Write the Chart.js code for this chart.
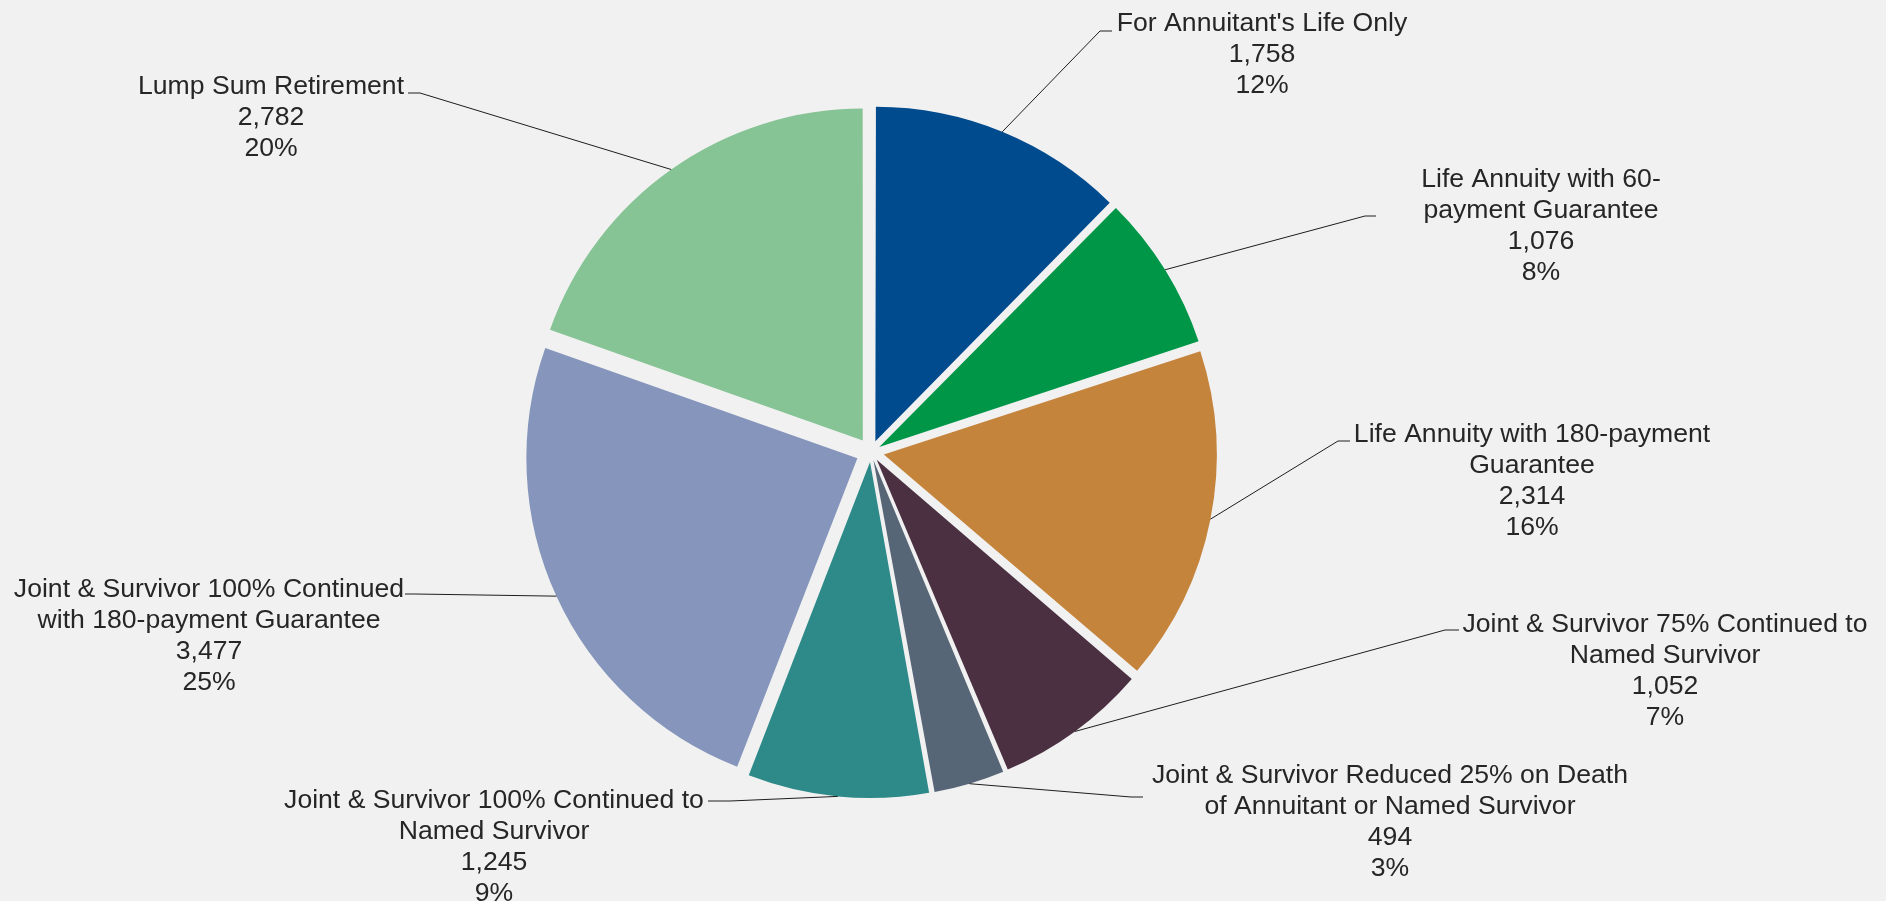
<!DOCTYPE html>
<html>
<head>
<meta charset="utf-8">
<script src="https://cdn.jsdelivr.net/npm/chart.js@4.4.1/dist/chart.umd.min.js"></script>
<style>
  html, body { margin: 0; padding: 0; background: #f1f1f1; }
  #wrap { width: 1886px; height: 901px; }
</style>
</head>
<body>
<div id="wrap"><canvas id="chartPlans"></canvas></div>
<script>
// categories (wrapped the way the original labels wrap)
var planNames = [
    ["For Annuitant's Life Only"],
    ["Life Annuity with 60-", "payment Guarantee"],
    ["Life Annuity with 180-payment", "Guarantee"],
    ["Joint & Survivor 75% Continued to", "Named Survivor"],
    ["Joint & Survivor Reduced 25% on Death", "of Annuitant or Named Survivor"],
    ["Joint & Survivor 100% Continued to", "Named Survivor"],
    ["Joint & Survivor 100% Continued", "with 180-payment Guarantee"],
    ["Lump Sum Retirement"]
];
var planCounts = [1758, 1076, 2314, 1052, 494, 1245, 3477, 2782];
var planPercents = ["12%", "8%", "16%", "7%", "3%", "9%", "25%", "20%"];

var sliceColors = ["#004b8d", "#009648", "#c5843c", "#4b3042", "#576677", "#2d8a89", "#8595bb", "#86c395"];

// how far every slice is pulled out (px)
var explode = 15;

// where each label sits: text centre x, first line centre y, elbow of leader, end of short tail
var labelSpots = [
    { x: 1262, y: 21,  ex: 1100, ey: 31,  tx: 1112 },
    { x: 1541, y: 177, ex: 1365, ey: 216, tx: 1376 },
    { x: 1532, y: 432, ex: 1338, ey: 441, tx: 1350 },
    { x: 1665, y: 622, ex: 1445, ey: 630, tx: 1459 },
    { x: 1390, y: 773, ex: 1131, ey: 797, tx: 1143 },
    { x: 494,  y: 798, ex: 730,  ey: 801, tx: 708 },
    { x: 209,  y: 587, ex: 415,  ey: 594, tx: 405 },
    { x: 271,  y: 84,  ex: 420,  ey: 93,  tx: 408 }
];

var total = planCounts.reduce(function(a, b) { return a + b; }, 0);

// Chart.js moves an arc by offset/4 * (2 - sin(circumference)), so undo that
function sliceOffset(c) {
    var circ = planCounts[c.dataIndex] / total * Math.PI * 2;
    return explode * 4 / (2 - Math.sin(Math.min(Math.PI, circ)));
}

var bgPlugin = {
    id: 'bg',
    beforeDraw: function(chart) {
        var c = chart.ctx;
        c.save();
        c.fillStyle = '#f1f1f1';
        c.fillRect(0, 0, chart.width, chart.height);
        c.restore();
    }
};

var labelPlugin = {
    id: 'sliceLabels',
    afterDatasetsDraw: function(chart) {
        var c = chart.ctx;
        var meta = chart.getDatasetMeta(0);
        var lineH = 31;
        c.save();
        meta.data.forEach(function(arc, i) {
            var p = arc.getProps(['x', 'y', 'startAngle', 'endAngle', 'outerRadius'], true);
            var mid = (p.startAngle + p.endAngle) / 2;
            var ax = p.x + Math.cos(mid) * (p.outerRadius + explode);
            var ay = p.y + Math.sin(mid) * (p.outerRadius + explode);
            var s = labelSpots[i];

            c.strokeStyle = '#1e1e1e';
            c.lineWidth = 1;
            c.beginPath();
            c.moveTo(ax, ay);
            c.lineTo(s.ex, s.ey);
            c.lineTo(s.tx, s.ey);
            c.stroke();

            var lines = planNames[i].concat([planCounts[i].toLocaleString('en-US'), planPercents[i]]);
            c.fillStyle = '#262626';
            c.font = '26.6px "Liberation Sans", Arial, sans-serif';
            c.textAlign = 'center';
            c.textBaseline = 'alphabetic';
            lines.forEach(function(t, k) {
                c.fillText(t, s.x, s.y + 9.5 + k * lineH);
            });
        });
        c.restore();
    }
};

var ctx = document.getElementById('chartPlans').getContext('2d');
var chart = new Chart(ctx, {
    type: 'pie',
    data: {
        labels: planNames,
        datasets: [{
            data: planCounts,
            backgroundColor: sliceColors,
            borderWidth: 0,
            offset: sliceOffset,
            hoverOffset: 0
        }]
    },
    options: {
        responsive: true,
        maintainAspectRatio: false,
        devicePixelRatio: 1,
        animation: false,
        radius: 331,
        layout: { padding: { left: 0, right: 144, top: 3, bottom: 0 } },
        plugins: {
            legend: { display: false },
            tooltip: { enabled: false }
        }
    },
    plugins: [bgPlugin, labelPlugin]
});
</script>
</body>
</html>
